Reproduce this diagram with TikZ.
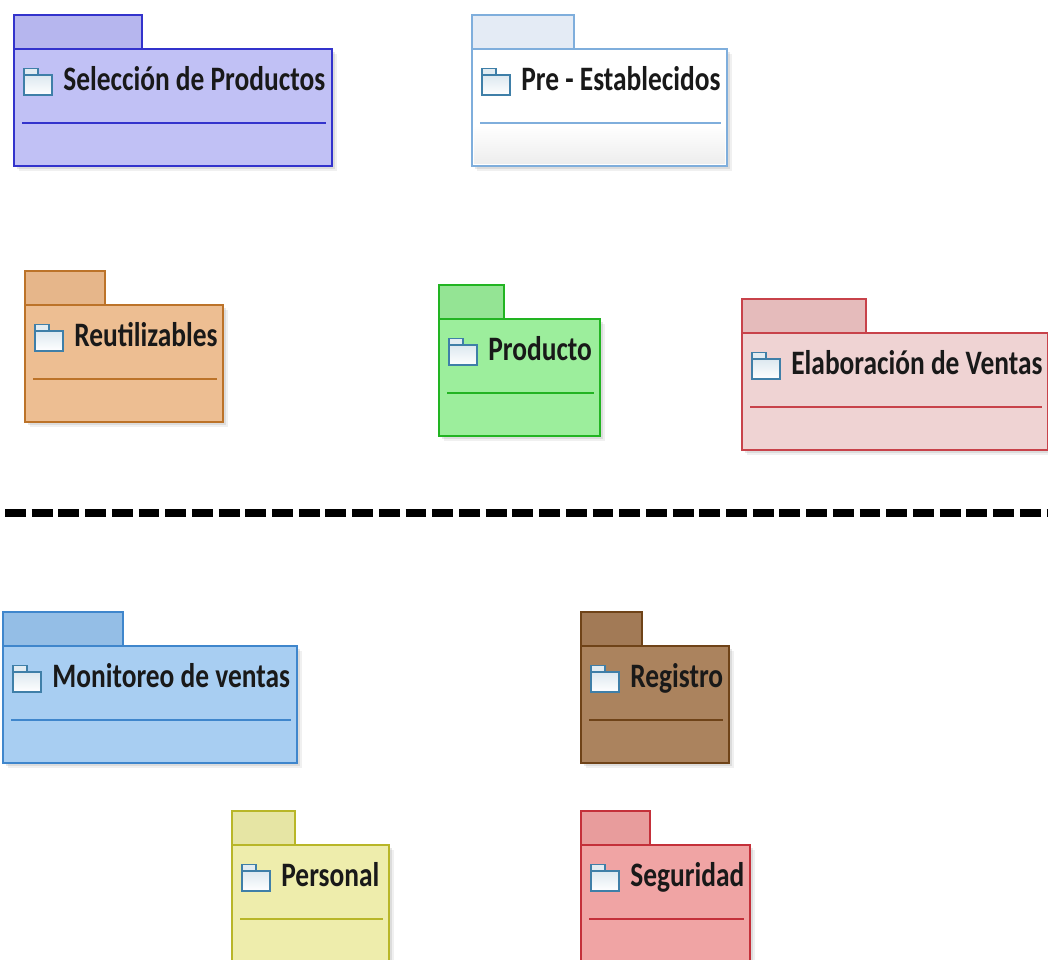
\documentclass[tikz,border=0pt]{standalone}
\usepackage{fontspec}
\setmainfont{Carlito}
\usepackage{tikz}
\usetikzlibrary{shadows, calc}

\definecolor{selFill}{HTML}{C1C1F5}
\definecolor{selTab}{HTML}{B6B6EE}
\definecolor{selLine}{HTML}{3333CC}
\definecolor{preTab}{HTML}{E4EBF5}
\definecolor{preLine}{HTML}{7FAEDC}
\definecolor{reuFill}{HTML}{EDBE92}
\definecolor{reuTab}{HTML}{E6B68A}
\definecolor{reuLine}{HTML}{BC7329}
\definecolor{proFill}{HTML}{9CEE9C}
\definecolor{proTab}{HTML}{94E494}
\definecolor{proLine}{HTML}{22B422}
\definecolor{elaFill}{HTML}{EFD3D3}
\definecolor{elaTab}{HTML}{E5BBBB}
\definecolor{elaLine}{HTML}{C8424A}
\definecolor{monFill}{HTML}{A8CEF2}
\definecolor{monTab}{HTML}{94BEE6}
\definecolor{monLine}{HTML}{3F86CC}
\definecolor{regFill}{HTML}{AB835E}
\definecolor{regTab}{HTML}{A27A56}
\definecolor{regLine}{HTML}{6F4318}
\definecolor{perFill}{HTML}{EEEDAC}
\definecolor{perTab}{HTML}{E6E5A4}
\definecolor{perLine}{HTML}{B8B628}
\definecolor{segFill}{HTML}{F0A4A4}
\definecolor{segTab}{HTML}{E89C9C}
\definecolor{segLine}{HTML}{C4303A}
\definecolor{iconLine}{HTML}{3F7FA8}

\tikzset{
	pkgbody/.style={shape=rectangle, anchor=north west, inner sep=0pt, outer sep=0pt, line width=1.1pt,
		drop shadow={shadow xshift=1.5pt, shadow yshift=-1.5pt, opacity=.18},
		drop shadow={shadow xshift=3pt, shadow yshift=-3pt, opacity=.12}},
	pkgtab/.style={shape=rectangle, anchor=south west, inner sep=0pt, outer sep=0pt, line width=1.1pt},
	pkgicon/.style={shape=rectangle, anchor=north west, inner sep=0pt, outer sep=0pt, draw=iconLine, line width=.95pt, top color=white!82!iconLine, bottom color=white, minimum width=16pt, minimum height=11.5pt},
	pkgiconflap/.style={shape=rectangle, anchor=south west, inner sep=0pt, outer sep=0pt, draw=iconLine, line width=.8pt, fill=white!85!iconLine, minimum width=8pt, minimum height=3.6pt},
	pkglabel/.style={anchor=base west, inner sep=0pt, font=\fontsize{19.5}{19.5}\bfseries\selectfont, text=black!90}
}

% name, x, y (top of body), width, tab width, colour prefix, text
\newcommand{\pkgbox}[8]{
	\node[pkgbody, fill=#7, draw=#8, minimum width=#4*.02cm, minimum height=117*.02cm] (#1) at (#2,#3) {};
	\node[pkgtab, fill=#6, draw=#8, minimum width=#5*.02cm, minimum height=34*.02cm] (#1tab) at (#1.north west) {};
}
\newcommand{\pkgtext}[2]{
	\node[pkgicon] (#1icon) at ($(#1.north west)+(10,-26)$) {};
	\node[pkgiconflap] (#1flap) at (#1icon.north west) {};
	\node[pkglabel] (#1label) at ($(#1.north west)+(49,-42)$) {\scalebox{.8}[1]{#2}};
}
\newcommand{\pkgline}[2]{
	\coordinate (#1a) at ($(#1.north west)+(8,-74)$);
	\coordinate (#1b) at ($(#1.north east)+(-6,-74)$);
	\draw[#2, line width=1pt] (#1a) -- (#1b);
}

\begin{document}
\begin{tikzpicture}[x=.02cm, y=.02cm]
	\useasboundingbox (0,0) rectangle (1048,960);

	\pkgbox{sel}{14}{911}{318}{128}{selTab}{selFill}{selLine}
	\pkgtext{sel}{Selección de Productos}
	\pkgline{sel}{selLine}

	\pkgbox{pre}{472}{911}{255}{102}{preTab}{white}{preLine}
	\fill[bottom color=black!7, top color=white] ($(pre.south west)+(2,2)$) rectangle ($(pre.north east)+(-2,-76)$);
	\pkgtext{pre}{Pre - Establecidos}
	\pkgline{pre}{preLine}

	\pkgbox{reu}{25}{655}{198}{80}{reuTab}{reuFill}{reuLine}
	\pkgtext{reu}{Reutilizables}
	\pkgline{reu}{reuLine}

	\pkgbox{pro}{439}{641}{161}{65}{proTab}{proFill}{proLine}
	\pkgtext{pro}{Producto}
	\pkgline{pro}{proLine}

	\pkgbox{ela}{742}{627}{306}{124}{elaTab}{elaFill}{elaLine}
	\pkgtext{ela}{Elaboración de Ventas}
	\pkgline{ela}{elaLine}

	\coordinate (sepa) at (5,447);
	\coordinate (sepb) at (1048,447);
	\draw[line width=4.5pt, black, dash pattern=on 11.9pt off 3.3pt] (sepa) -- (sepb);

	\pkgbox{mon}{3}{314}{294}{120}{monTab}{monFill}{monLine}
	\pkgtext{mon}{Monitoreo de ventas}
	\pkgline{mon}{monLine}

	\pkgbox{reg}{581}{314}{148}{61}{regTab}{regFill}{regLine}
	\pkgtext{reg}{Registro}
	\pkgline{reg}{regLine}

	\pkgbox{per}{232}{115}{157}{63}{perTab}{perFill}{perLine}
	\pkgtext{per}{Personal}
	\pkgline{per}{perLine}

	\pkgbox{seg}{581}{115}{169}{69}{segTab}{segFill}{segLine}
	\pkgtext{seg}{Seguridad}
	\pkgline{seg}{segLine}
\end{tikzpicture}
\end{document}
